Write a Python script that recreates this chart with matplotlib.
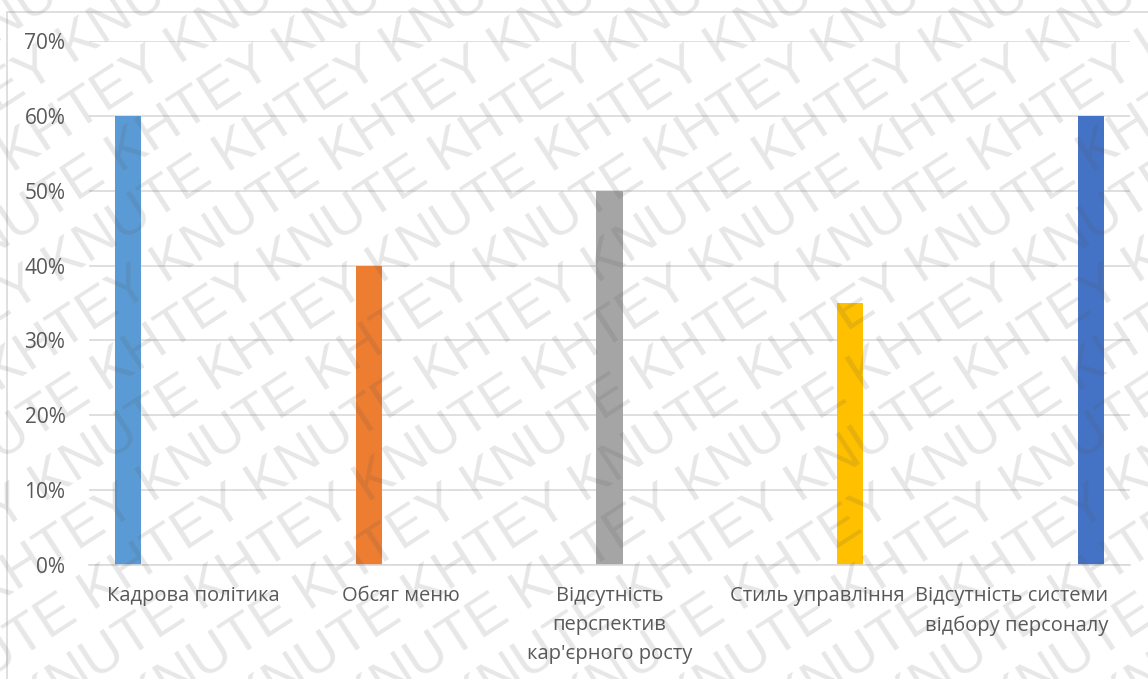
import matplotlib
matplotlib.use("Agg")
import matplotlib.pyplot as plt
from matplotlib.patches import Rectangle
from matplotlib.ticker import PercentFormatter
from matplotlib.transforms import ScaledTranslation

categories = [
    "Кадрова політика",
    "Обсяг меню",
    "Відсутність\nперспектив\nкар'єрного росту",
    "Стиль управління",
    "Відсутність системи\nвідбору персоналу",
]
values = [0.60, 0.40, 0.50, 0.35, 0.60]
colors = ["#5B9BD5", "#ED7D31", "#A5A5A5", "#FFC000", "#4472C4"]
yticks = [0, 0.1, 0.2, 0.3, 0.4, 0.5, 0.6, 0.7]

plt.rcParams["font.family"] = ["Open Sans", "DejaVu Sans"]
textColor = "#595959"
gridColor = "#D9D9D9"

fig = plt.figure(figsize=(11.48, 6.79), dpi=100)
ax = fig.add_axes([89 / 1148, 1 - 565 / 679, (1130 - 89) / 1148, (565 - 41) / 679])
ax.patch.set_alpha(0)

# each category is its own series in Excel, so bars sit at different slots
step = 0.156
n = len(values)
for i, (v, c) in enumerate(zip(values, colors)):
    ax.bar(i + (i - (n - 1) / 2) * step, v, width=0.125, color=c, zorder=2)

ax.set_xlim(-0.5, n - 0.5)
ax.set_ylim(0, 0.7)
ax.set_yticks(yticks)
ax.yaxis.set_major_formatter(PercentFormatter(1.0, decimals=0))
ax.set_xticks(range(n))
ax.set_xticklabels(categories, linespacing=1.62)
for lbl in ax.get_xticklabels():
    lbl.set_multialignment("center")

ax.tick_params(axis="both", length=0, labelsize=14.5, colors=textColor)
ax.tick_params(axis="x", pad=15)
ax.tick_params(axis="y", labelsize=15, pad=17)
ax.grid(axis="y", color=gridColor, linewidth=1.2, zorder=0)
for side in ["top", "right", "left"]:
    ax.spines[side].set_visible(False)
ax.spines["bottom"].set_color(gridColor)
ax.spines["bottom"].set_linewidth(1.2)

# last label is pushed left to stay inside the chart box
last = ax.get_xticklabels()[-1]
last.set_multialignment("right")
last.set_transform(last.get_transform() + ScaledTranslation(-0.14, 0, fig.dpi_scale_trans))

# chart border
fig.patches.append(Rectangle((7 / 1148, -0.1), 1.2, 1 - 12 / 679 + 0.1,
                             transform=fig.transFigure, fill=False,
                             edgecolor=gridColor, linewidth=1.2))

# watermark
mark = "KNUTE KHTEY " * 6
for k in range(-10, 14):
    fig.text(-0.45 + k * 0.094, -0.4, mark, rotation=33,
             fontsize=40, color="#555555", alpha=0.14,
             ha="left", va="bottom", family="Liberation Sans",
             rotation_mode="anchor", zorder=10)

fig.savefig("out.png", dpi=100)
